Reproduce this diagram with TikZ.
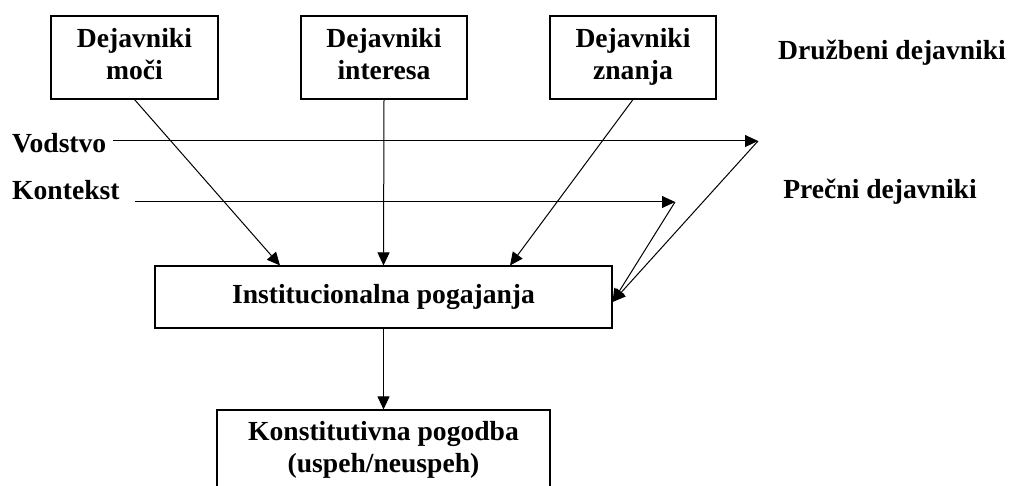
\documentclass[tikz,border=0pt]{standalone}
\usepackage{fontspec}
\setmainfont{Liberation Serif}
\usetikzlibrary{arrows.meta}
\begin{document}
\begin{tikzpicture}[x=1pt,y=-1pt,
  every node/.style={font=\fontsize{27.6}{32}\selectfont\bfseries},
  box/.style={draw,line width=1.1pt,inner sep=0pt,align=center},
  lab/.style={inner sep=0pt},
  arr/.style={line width=1pt,-{Triangle[length=13pt,width=12pt]}},
  ln/.style={line width=1pt}]
\useasboundingbox (0,0) rectangle (1009,486);
\node[box,minimum width=167pt,minimum height=83pt] (moci) at (134.5,57.5) {Dejavniki\strut\\moči\strut};
\node[box,minimum width=166pt,minimum height=83pt] (inter) at (384,57.5) {Dejavniki\strut\\interesa\strut};
\node[box,minimum width=166pt,minimum height=83pt] (znanja) at (633,57.5) {Dejavniki\strut\\znanja\strut};
\node[lab] (druz) at (892,53) {Družbeni dejavniki};
\node[lab] (precni) at (880,192) {Prečni dejavniki};
\node[lab,anchor=base west] (vod) at (12,153) {Vodstvo};
\node[lab,anchor=base west] (kon) at (12,200) {Kontekst};
\node[box,minimum width=457pt,minimum height=62pt] (inst) at (383.5,297) {Institucionalna pogajanja\strut};
\node[box,minimum width=333pt,minimum height=80pt] (konst) at (383.5,450) {Konstitutivna pogodba\strut\\(uspeh/neuspeh)\strut};
\coordinate (vstart) at (113,141);
\coordinate (vtip) at (758,141);
\coordinate (kstart) at (135,202);
\coordinate (ktip) at (675,202);
\draw[arr] (vstart) -- (vtip);
\draw[arr] (kstart) -- (ktip);
\draw[arr] (vtip) -- ([yshift=-5pt]inst.east);
\draw[arr] (ktip) -- ([yshift=-5pt]inst.east);
\draw[arr] (moci.south) -- ([xshift=-103.5pt]inst.north);
\draw[arr] (inter.south) -- (inst.north);
\draw[arr] (znanja.south) -- ([xshift=126.5pt]inst.north);
\draw[arr] (inst.south) -- (konst.north);
\end{tikzpicture}
\end{document}
